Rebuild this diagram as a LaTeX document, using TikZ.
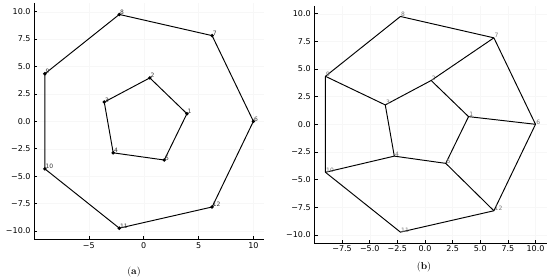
\documentclass[tikz,border=0pt]{standalone}
\usepackage{fontspec}
\setsansfont{DejaVu Sans}
\begin{document}
\begin{tikzpicture}[x=1pt,y=-1pt,
  edge/.style={line width=0.95pt, line join=round},
  axisline/.style={line width=0.8pt},
  tickmark/.style={line width=0.6pt},
  gridline/.style={black!3, line width=0.4pt},
  dotnode/.style={circle, fill=black, inner sep=0pt, minimum size=3.8pt},
  lbl/.style={font=\sffamily\fontsize{6}{7}\selectfont, inner sep=0.3pt, anchor=base west},
  ticklab/.style={font=\sffamily\fontsize{8}{9}\selectfont, inner sep=1pt},
  captxt/.style={font=\fontsize{10}{12}\selectfont, inner sep=1pt}]
\useasboundingbox (0,0) rectangle (550,279);

% ---------------- panel (a) ----------------
\begin{scope}[shift={(143.7,121.3)}, x=10.97pt, y=10.96pt]
  \foreach \g in {-5,0,5,10} \draw[gridline] (\g,-10.74) -- (\g,10.8);
  \foreach \g in {-10,-7.5,...,10} \draw[gridline] (-10,\g) -- (11,\g);
  \draw[axisline] (-10,10.8) -- (-10,-10.74) -- (11,-10.74);
  \foreach \y/\t in {10/10.0,7.5/7.5,5/5.0,2.5/2.5,0/0.0,-2.5/−2.5,-5/−5.0,-7.5/−7.5,-10/−10.0}{
    \draw[tickmark] (-10,\y) -- ++(3pt,0);
    \node[ticklab, anchor=east] at ([xshift=-2.3pt]-10,\y) {\t};
  }
  \foreach \x/\t in {-5/−5,0/0,5/5,10/10}{
    \draw[tickmark] (\x,-10.74) -- ++(0,3pt);
    \node[ticklab, anchor=north] at ([yshift=-2.3pt]\x,-10.74) {\t};
  }
  \foreach \i/\ang in {1/10,2/82,3/154,4/226,5/298}{
    \node[dotnode] (a\i) at (\ang:4) {};
  }
  \foreach \i/\k in {6/0,7/1,8/2,9/3,10/4,11/5,12/6}{
    \node[dotnode] (a\i) at ({\k*360/7}:10) {};
  }
  \draw[edge] (a1.center) -- (a2.center) -- (a3.center) -- (a4.center) -- (a5.center) -- cycle;
  \draw[edge] (a6.center) -- (a7.center) -- (a8.center) -- (a9.center) -- (a10.center) -- (a11.center) -- (a12.center) -- cycle;
  \foreach \i in {1,...,12}{
    \node[lbl, text=black!80] (la\i) at ([xshift=0.3pt]a\i.center) {\i};
  }
\end{scope}
\node[captxt] (capa) at (134,272) {(\textbf{a})};

% ---------------- panel (b) ----------------
\begin{scope}[shift={(425,124.3)}, x=11.05pt, y=11.06pt]
  \foreach \g in {-7.5,-5,...,10} \draw[gridline] (\g,-10.74) -- (\g,10.7);
  \foreach \g in {-10,-7.5,...,10} \draw[gridline] (-10,\g) -- (11,\g);
  \draw[axisline] (-10,10.7) -- (-10,-10.74) -- (11,-10.74);
  \foreach \y/\t in {10/10.0,7.5/7.5,5/5.0,2.5/2.5,0/0.0,-2.5/−2.5,-5/−5.0,-7.5/−7.5,-10/−10.0}{
    \draw[tickmark] (-10,\y) -- ++(3pt,0);
    \node[ticklab, anchor=east] at ([xshift=-2.6pt]-10,\y) {\t};
  }
  \foreach \x/\t in {-7.5/−7.5,-5/−5.0,-2.5/−2.5,0/0.0,2.5/2.5,5/5.0,7.5/7.5,10/10.0}{
    \draw[tickmark] (\x,-10.74) -- ++(0,3pt);
    \node[ticklab, anchor=north] at ([yshift=-1.7pt]\x,-10.74) {\t};
  }
  \foreach \i/\ang in {1/10,2/82,3/154,4/226,5/298}{
    \coordinate (b\i) at (\ang:4);
  }
  \foreach \i/\k in {6/0,7/1,8/2,9/3,10/4,11/5,12/6}{
    \coordinate (b\i) at ({\k*360/7}:10);
  }
  \draw[edge] (b1) -- (b2) -- (b3) -- (b4) -- (b5) -- cycle;
  \draw[edge] (b6) -- (b7) -- (b8) -- (b9) -- (b10) -- (b11) -- (b12) -- cycle;
  \draw[edge] (b1) -- (b6);
  \draw[edge] (b2) -- (b7);
  \draw[edge] (b3) -- (b9);
  \draw[edge] (b4) -- (b10);
  \draw[edge] (b5) -- (b12);
  \foreach \i in {1,...,12}{
    \node[lbl, text=black!55] (lb\i) at ([xshift=0.3pt]b\i) {\i};
  }
\end{scope}
\node[captxt] (capb) at (424,267) {(\textbf{b})};
\end{tikzpicture}
\end{document}
